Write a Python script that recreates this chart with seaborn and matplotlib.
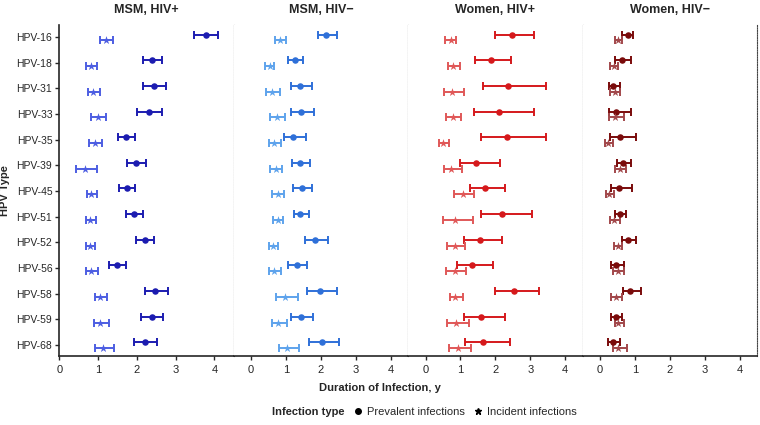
import numpy as np
import pandas as pd
import matplotlib
matplotlib.use("Agg")
import matplotlib.pyplot as plt
from matplotlib.lines import Line2D
import seaborn as sns

hpv_types = ["HPV-16", "HPV-18", "HPV-31", "HPV-33", "HPV-35", "HPV-39", "HPV-45",
             "HPV-51", "HPV-52", "HPV-56", "HPV-58", "HPV-59", "HPV-68"]
groups = ["MSM, HIV+", "MSM, HIV\u2212", "Women, HIV+", "Women, HIV\u2212"]

# prevalent infections: estimate, lower, upper
msm_pos_prev = [3.78, 2.38, 2.44, 2.31, 1.71, 1.98, 1.74, 1.93, 2.20, 1.50, 2.48, 2.38, 2.20]
msm_pos_prev_lo = [3.48, 2.15, 2.17, 2.01, 1.51, 1.74, 1.55, 1.72, 1.98, 1.29, 2.22, 2.10, 1.93]
msm_pos_prev_hi = [4.10, 2.65, 2.75, 2.66, 1.95, 2.25, 1.95, 2.16, 2.44, 1.73, 2.80, 2.68, 2.53]
msm_pos_inc = [1.21, 0.83, 0.88, 0.99, 0.91, 0.66, 0.83, 0.79, 0.79, 0.83, 1.06, 1.06, 1.13]
msm_pos_inc_lo = [1.06, 0.70, 0.73, 0.81, 0.77, 0.43, 0.72, 0.68, 0.68, 0.70, 0.91, 0.89, 0.91]
msm_pos_inc_hi = [1.39, 0.97, 1.04, 1.21, 1.10, 0.97, 0.97, 0.94, 0.92, 1.01, 1.24, 1.28, 1.40]

msm_neg_prev = [2.16, 1.26, 1.40, 1.44, 1.21, 1.40, 1.45, 1.41, 1.84, 1.31, 1.97, 1.42, 2.04]
msm_neg_prev_lo = [1.92, 1.07, 1.13, 1.15, 0.94, 1.16, 1.21, 1.22, 1.55, 1.06, 1.60, 1.15, 1.66]
msm_neg_prev_hi = [2.47, 1.48, 1.74, 1.81, 1.58, 1.69, 1.75, 1.65, 2.21, 1.61, 2.46, 1.77, 2.51]
msm_neg_inc = [0.84, 0.53, 0.60, 0.73, 0.65, 0.71, 0.76, 0.76, 0.62, 0.65, 0.98, 0.78, 1.03]
msm_neg_inc_lo = [0.69, 0.40, 0.44, 0.54, 0.50, 0.55, 0.60, 0.63, 0.50, 0.51, 0.71, 0.59, 0.79]
msm_neg_inc_hi = [1.01, 0.65, 0.82, 0.97, 0.85, 0.88, 0.93, 0.92, 0.77, 0.86, 1.34, 1.03, 1.36]

wom_pos_prev = [2.48, 1.87, 2.37, 2.10, 2.34, 1.45, 1.71, 2.19, 1.57, 1.33, 2.53, 1.58, 1.65]
wom_pos_prev_lo = [2.00, 1.43, 1.64, 1.40, 1.60, 1.00, 1.26, 1.59, 1.11, 0.90, 1.99, 1.11, 1.12]
wom_pos_prev_hi = [3.11, 2.45, 3.46, 3.11, 3.46, 2.12, 2.29, 3.05, 2.20, 1.94, 3.25, 2.27, 2.42]
wom_pos_inc = [0.72, 0.80, 0.77, 0.79, 0.50, 0.74, 1.07, 0.83, 0.83, 0.83, 0.85, 0.88, 0.94]
wom_pos_inc_lo = [0.57, 0.63, 0.54, 0.59, 0.38, 0.53, 0.81, 0.51, 0.61, 0.59, 0.69, 0.61, 0.68]
wom_pos_inc_hi = [0.86, 1.00, 1.09, 1.03, 0.68, 1.04, 1.40, 1.35, 1.12, 1.17, 1.07, 1.25, 1.30]

wom_neg_prev = [0.79, 0.62, 0.37, 0.47, 0.56, 0.65, 0.54, 0.57, 0.81, 0.47, 0.87, 0.46, 0.36]
wom_neg_prev_lo = [0.63, 0.43, 0.26, 0.25, 0.29, 0.48, 0.32, 0.44, 0.63, 0.32, 0.65, 0.32, 0.23]
wom_neg_prev_hi = [0.95, 0.90, 0.57, 0.90, 1.03, 0.88, 0.91, 0.76, 1.03, 0.68, 1.19, 0.63, 0.57]
wom_neg_inc = [0.53, 0.40, 0.42, 0.42, 0.23, 0.57, 0.26, 0.40, 0.51, 0.51, 0.46, 0.53, 0.52]
wom_neg_inc_lo = [0.43, 0.30, 0.29, 0.27, 0.14, 0.43, 0.17, 0.29, 0.40, 0.37, 0.33, 0.42, 0.37]
wom_neg_inc_hi = [0.63, 0.52, 0.57, 0.69, 0.36, 0.74, 0.40, 0.56, 0.63, 0.69, 0.63, 0.70, 0.77]

panels = [
    (msm_pos_prev, msm_pos_prev_lo, msm_pos_prev_hi, msm_pos_inc, msm_pos_inc_lo, msm_pos_inc_hi),
    (msm_neg_prev, msm_neg_prev_lo, msm_neg_prev_hi, msm_neg_inc, msm_neg_inc_lo, msm_neg_inc_hi),
    (wom_pos_prev, wom_pos_prev_lo, wom_pos_prev_hi, wom_pos_inc, wom_pos_inc_lo, wom_pos_inc_hi),
    (wom_neg_prev, wom_neg_prev_lo, wom_neg_prev_hi, wom_neg_inc, wom_neg_inc_lo, wom_neg_inc_hi),
]
prev_colors = ["#1c1cb0", "#2f70d8", "#d5191c", "#7a0b0b"]
inc_colors = ["#4d5ee2", "#5ea3ec", "#e05858", "#a2484b"]

sns.set_style("ticks")
plt.rcParams['font.family'] = ['Liberation Sans', 'DejaVu Sans']

fig, axes = plt.subplots(1, 4, figsize=(7.6, 4.25), dpi=100, sharey=True)
fig.subplots_adjust(left=0.078, right=0.996, bottom=0.163, top=0.941, wspace=0)

rows = np.arange(len(hpv_types))
for k, ax in enumerate(axes):
    prev, plo, phi, inc, ilo, ihi = panels[k]
    df = pd.DataFrame({
        "row": np.concatenate([rows - 0.1, rows + 0.13]),
        "est": prev + inc,
        "lo": plo + ilo,
        "hi": phi + ihi,
        "type": ["Prevalent"] * len(rows) + ["Incident"] * len(rows),
    })
    for t, col, mk, ms in [("Prevalent", prev_colors[k], "o", 22), ("Incident", inc_colors[k], "*", 40)]:
        d = df[df["type"] == t]
        ax.errorbar(d["est"], d["row"], xerr=[d["est"] - d["lo"], d["hi"] - d["est"]],
                    fmt="none", ecolor=col, elinewidth=1.4, capsize=3, capthick=1.4)
        sns.scatterplot(data=d, x="est", y="row", color=col, marker=mk, s=ms,
                        edgecolor=col, linewidth=0, ax=ax, legend=False, zorder=3)
    ax.set_title(groups[k], fontsize=9, fontweight="bold", pad=9)
    ax.set_xlim(0 if k == 0 else -0.5, 4.5)
    ax.set_xticks([0, 1, 2, 3, 4])
    ax.set_ylim(12.42, -0.47)
    ax.set_xlabel("")
    ax.set_ylabel("")
    ax.tick_params(axis="x", labelsize=8, length=3, width=1)
    ax.spines["top"].set_visible(False)
    ax.spines["bottom"].set_linewidth(1.2)
    ax.spines["right"].set_linestyle((0, (1, 1.2)))
    ax.spines["right"].set_linewidth(0.8)
    ax.spines["right"].set_color("#444444")
    if k == 0:
        ax.spines["left"].set_linewidth(1.2)
        ax.set_yticks(rows)
        ax.set_yticklabels(hpv_types)
        ax.tick_params(axis="y", labelsize=7.5, length=3, width=1, pad=2)
        ax.set_ylabel("HPV Type", fontsize=8, fontweight="bold")
        ax.yaxis.set_label_coords(-0.285, 0.5)
    else:
        ax.spines["left"].set_visible(False)
        ax.tick_params(axis="y", left=False)

fig.text(0.5, 0.08, "Duration of Infection, y", ha="center", fontsize=8, fontweight="bold")

handles = [Line2D([], [], linestyle="none"),
           Line2D([], [], linestyle="none", marker="o", color="black", markersize=4),
           Line2D([], [], linestyle="none", marker="*", color="black", markersize=5)]
labels = ["Infection type", "Prevalent infections", "Incident infections"]
leg = fig.legend(handles, labels, loc="center", bbox_to_anchor=(0.55, 0.03), ncol=3,
                 frameon=False, fontsize=8, handlelength=0.8, handletextpad=0.4, columnspacing=0.8)
leg.get_texts()[0].set_fontweight("bold")

fig.savefig("out.png", dpi=100)
